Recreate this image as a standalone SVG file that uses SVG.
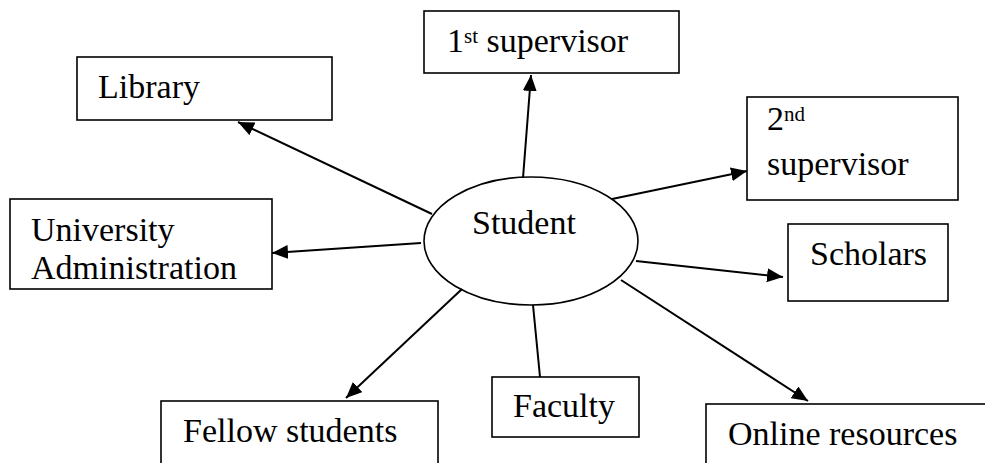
<svg xmlns="http://www.w3.org/2000/svg" width="985" height="463" viewBox="0 0 985 463">
<style>
.box{fill:#fff;stroke:#000;stroke-width:1.6}
.t{font-family:"Liberation Serif","Times New Roman",serif;font-size:34px;fill:#000}
.sup{font-size:21px}
.c{stroke:#000;stroke-width:2;fill:none}
</style>
<defs>
<marker id="ah" markerUnits="userSpaceOnUse" markerWidth="18" markerHeight="14" refX="16" refY="7" orient="auto">
<path d="M0,0 L16,7 L0,14 Z" fill="#000"/>
</marker>
</defs>
<g id="connectors">
<line class="c" x1="432" y1="214" x2="238" y2="122" marker-end="url(#ah)"/>
<line class="c" x1="523" y1="178" x2="531" y2="75" marker-end="url(#ah)"/>
<line class="c" x1="612" y1="199" x2="747" y2="171" marker-end="url(#ah)"/>
<line class="c" x1="421" y1="243" x2="272" y2="253" marker-end="url(#ah)"/>
<line class="c" x1="462" y1="289" x2="346" y2="398" marker-end="url(#ah)"/>
<line class="c" x1="533" y1="305" x2="540" y2="377"/>
<line class="c" x1="636" y1="261" x2="783" y2="277" marker-end="url(#ah)"/>
<line class="c" x1="621" y1="280" x2="808" y2="401" marker-end="url(#ah)"/>
</g>
<g id="student">
<ellipse cx="531" cy="241" rx="107" ry="64" fill="none" stroke="#000" stroke-width="1.6"/>
<text class="t" x="472" y="234">Student</text>
</g>
<g id="library">
<rect class="box" x="77" y="57" width="255" height="63"/>
<text class="t" x="98" y="98">Library</text>
</g>
<g id="supervisor1">
<rect class="box" x="424" y="11" width="255" height="62"/>
<text class="t" x="447" y="52">1<tspan class="sup" dy="-9">st</tspan><tspan dy="9"> supervisor</tspan></text>
</g>
<g id="supervisor2">
<rect class="box" x="747" y="97" width="211" height="103"/>
<text class="t" x="767" y="130">2<tspan class="sup" dy="-9">nd</tspan></text>
<text class="t" x="767" y="175">supervisor</text>
</g>
<g id="university">
<rect class="box" x="10" y="199" width="262" height="90"/>
<text class="t" x="31" y="241">University</text>
<text class="t" x="31" y="279">Administration</text>
</g>
<g id="scholars">
<rect class="box" x="788" y="224" width="160" height="77"/>
<text class="t" x="810" y="265">Scholars</text>
</g>
<g id="faculty">
<rect class="box" x="492" y="377" width="147" height="60"/>
<text class="t" x="513" y="417">Faculty</text>
</g>
<g id="fellow">
<rect class="box" x="161" y="401" width="277" height="80"/>
<text class="t" x="183" y="442">Fellow students</text>
</g>
<g id="online">
<rect class="box" x="706" y="404" width="300" height="80"/>
<text class="t" x="728" y="445">Online resources</text>
</g>
</svg>
